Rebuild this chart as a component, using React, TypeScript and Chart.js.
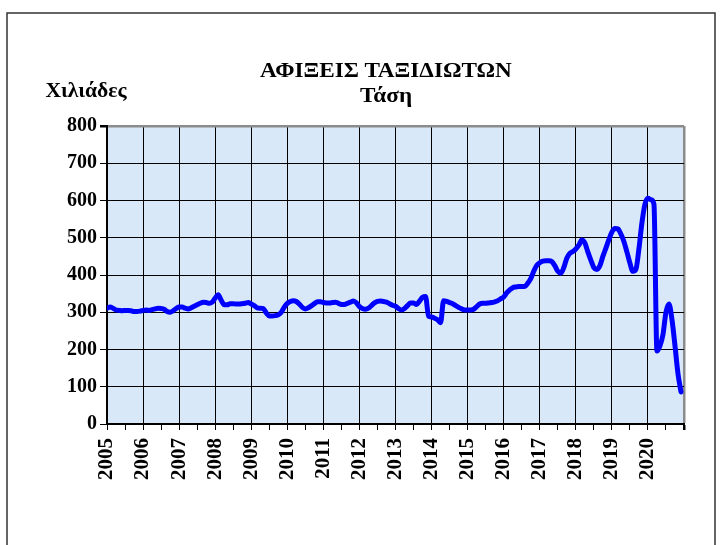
import React, { useEffect, useRef } from "react";
import { Chart, registerables } from "chart.js";

Chart.register(...registerables);

// Monthly trend of traveller arrivals (thousands), Jan 2005 – Dec 2020
const years = [2005, 2006, 2007, 2008, 2009, 2010, 2011, 2012, 2013, 2014, 2015, 2016, 2017, 2018, 2019, 2020];
const y2005 = [311, 314, 311, 306, 305, 304, 305, 305, 304, 302, 302, 303];
const y2006 = [305, 306, 305, 307, 309, 311, 310, 308, 302, 300, 304, 310];
const y2007 = [314, 314, 311, 309, 312, 316, 320, 324, 327, 326, 324, 327];
const y2008 = [338, 347, 332, 320, 320, 323, 323, 322, 322, 323, 324, 326];
const y2009 = [322, 318, 312, 311, 310, 298, 290, 290, 291, 293, 300, 314];
const y2010 = [324, 329, 331, 329, 322, 313, 309, 312, 317, 323, 328, 328];
const y2011 = [326, 325, 325, 326, 327, 324, 321, 321, 324, 327, 330, 325];
const y2012 = [315, 310, 308, 311, 318, 325, 329, 330, 329, 327, 323, 319];
const y2013 = [316, 310, 306, 310, 318, 325, 325, 321, 330, 340, 342, 289];
const y2014 = [287, 284, 280, 272, 331, 329, 326, 323, 318, 313, 309, 306];
const y2015 = [306, 306, 308, 315, 322, 324, 324, 325, 326, 328, 331, 336];
const y2016 = [341, 352, 360, 366, 368, 369, 369, 369, 378, 390, 410, 426];
const y2017 = [433, 437, 438, 438, 436, 425, 410, 405, 420, 445, 458, 463];
const y2018 = [470, 480, 494, 486, 462, 440, 420, 415, 425, 450, 472, 495];
const y2019 = [515, 525, 524, 510, 490, 462, 432, 410, 415, 470, 540, 590];
const y2020 = [606, 602, 590, 196, 210, 240, 300, 322, 280, 210, 135, 86];

const monthly = [
  y2005, y2006, y2007, y2008, y2009, y2010, y2011, y2012,
  y2013, y2014, y2015, y2016, y2017, y2018, y2019, y2020,
];

const yTicks = [0, 100, 200, 300, 400, 500, 600, 700, 800];
const titleLine1 = "ΑΦΙΞΕΙΣ ΤΑΞΙΔΙΩΤΩΝ";
const titleLine2 = "Τάση";
const unitLabel = "Χιλιάδες";

const FONT = "'Liberation Serif', 'Times New Roman', serif";

export default function App() {
  const ref = useRef<HTMLCanvasElement | null>(null);

  useEffect(() => {
    document.body.style.margin = "0";
    const canvas = ref.current;
    if (!canvas) return;

    const points: { x: number; y: number }[] = [];
    monthly.forEach((arr, yi) => {
      arr.forEach((v, m) => points.push({ x: yi * 12 + m, y: v }));
    });
    const maxX = years.length * 12;

    const decor = {
      id: "decor",
      beforeDraw(chart: any) {
        const { ctx, chartArea: a } = chart;
        ctx.save();
        ctx.fillStyle = "#ffffff";
        ctx.fillRect(0, 0, chart.width, chart.height);
        ctx.fillStyle = "#d9e8f8";
        ctx.fillRect(a.left, a.top, a.right - a.left, a.bottom - a.top);
        ctx.restore();
      },
      afterDraw(chart: any) {
        const { ctx } = chart;
        ctx.save();
        ctx.strokeStyle = "#333333";
        ctx.lineWidth = 1.5;
        ctx.strokeRect(7, 13, 708, 600);
        ctx.fillStyle = "#000";
        ctx.textAlign = "center";
        ctx.textBaseline = "alphabetic";
        ctx.font = `bold 20px ${FONT}`;
        ctx.save();
        ctx.translate(386, 77);
        ctx.scale(1.16, 1);
        ctx.fillText(titleLine1, 0, 0);
        ctx.restore();
        ctx.save();
        ctx.translate(386, 102);
        ctx.scale(1.16, 1);
        ctx.fillText(titleLine2, 0, 0);
        ctx.restore();
        ctx.save();
        ctx.translate(86, 97);
        ctx.scale(1.08, 1);
        ctx.fillText(unitLabel, 0, 0);
        ctx.restore();
        ctx.restore();
      },
    };

    const chart = new Chart(canvas, {
      type: "line",
      data: {
        datasets: [
          {
            data: points,
            borderColor: "#0000ff",
            borderWidth: 5,
            pointRadius: 0,
            cubicInterpolationMode: "monotone",
            borderJoinStyle: "round",
            borderCapStyle: "round",
            fill: false,
          },
        ],
      },
      options: {
        responsive: false,
        animation: false,
        devicePixelRatio: 1,
        layout: { padding: { left: 0, top: 126, right: 43, bottom: 51 } },
        plugins: { legend: { display: false }, tooltip: { enabled: false }, title: { display: false } },
        scales: {
          x: {
            type: "linear",
            min: 0,
            max: maxX,
            afterFit(scale: any) {
              scale.height = 70;
            },
            afterBuildTicks(scale: any) {
              const t: { value: number }[] = [];
              for (let v = 0; v <= maxX; v += 6) t.push({ value: v });
              scale.ticks = t;
            },
            border: { display: true, color: "#000", width: 2 },
            grid: {
              drawOnChartArea: true,
              drawTicks: true,
              tickLength: 6,
              tickColor: "#000",
              color: (c: any) => {
                const v = c.tick ? c.tick.value : 0;
                if (v === maxX) return "#8c8c8c";
                return v % 12 === 0 ? "#000" : "rgba(0,0,0,0)";
              },
              lineWidth: (c: any) => (c.tick && c.tick.value === maxX ? 2.5 : 1),
            },
            ticks: {
              autoSkip: false,
              maxRotation: 90,
              minRotation: 90,
              padding: 8,
              color: "#000",
              font: { family: FONT, size: 21, weight: "bold" },
              callback: (v: any) => {
                const n = Number(v);
                if (n % 12 !== 0 || n >= maxX) return "";
                return String(years[n / 12]);
              },
            },
          },
          y: {
            min: 0,
            max: 800,
            afterFit(scale: any) {
              scale.width = 107;
            },
            afterBuildTicks(scale: any) {
              scale.ticks = yTicks.map((v) => ({ value: v }));
            },
            border: { display: true, color: "#000", width: 2 },
            grid: {
              tickLength: 7,
              tickColor: "#000",
              color: (c: any) => (c.tick && c.tick.value === 800 ? "#8c8c8c" : "#000"),
              lineWidth: (c: any) => (c.tick && c.tick.value === 800 ? 2.5 : 1),
            },
            ticks: {
              padding: 3,
              color: "#000",
              font: { family: FONT, size: 20, weight: "bold" },
              callback: (v: any) => String(v),
            },
          },
        },
      },
      plugins: [decor],
    } as any);

    return () => chart.destroy();
  }, []);

  return (
    <div style={{ position: "absolute", left: 0, top: 0, width: 727, height: 545 }}>
      <canvas ref={ref} width={727} height={545} style={{ width: 727, height: 545, display: "block" }} />
    </div>
  );
}
